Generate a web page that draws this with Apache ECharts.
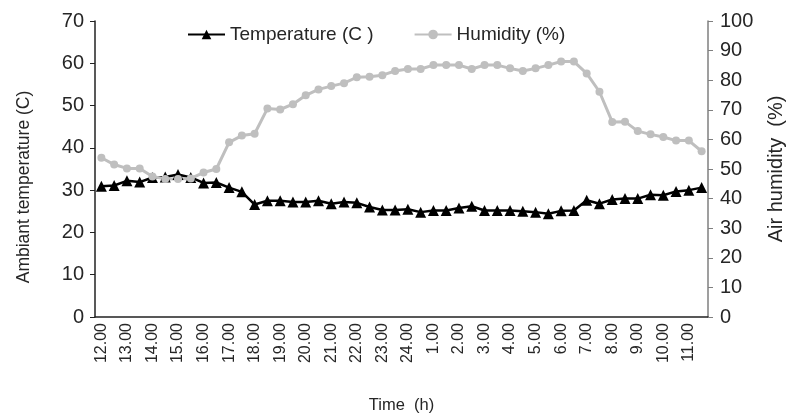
<!DOCTYPE html>
<html>
<head>
<meta charset="utf-8">
<script src="https://cdn.jsdelivr.net/npm/echarts@6/dist/echarts.min.js"></script>
<style>
  html, body { margin: 0; padding: 0; background: #fff; }
  #chart { width: 788px; height: 414px; }
</style>
</head>
<body>
<div id="chart"></div>
<script>
// half-hour readings, 12.00 -> 11.30
const times = [
  "12.00", "12.30", "13.00", "13.30", "14.00", "14.30", "15.00", "15.30",
  "16.00", "16.30", "17.00", "17.30", "18.00", "18.30", "19.00", "19.30",
  "20.00", "20.30", "21.00", "21.30", "22.00", "22.30", "23.00", "23.30",
  "24.00", "24.30", "1.00", "1.30", "2.00", "2.30", "3.00", "3.30",
  "4.00", "4.30", "5.00", "5.30", "6.00", "6.30", "7.00", "7.30",
  "8.00", "8.30", "9.00", "9.30", "10.00", "10.30", "11.00", "11.30"
];

const temperature = [
  30.9, 31.1, 32.2, 31.9, 33.0, 33.1, 33.7, 33.0, 31.7, 31.8, 30.6, 29.6,
  26.6, 27.5, 27.5, 27.2, 27.2, 27.5, 26.8, 27.2, 27.0, 26.0, 25.3, 25.3,
  25.5, 24.8, 25.2, 25.2, 25.8, 26.2, 25.2, 25.2, 25.2, 25.0, 24.8, 24.4,
  25.1, 25.2, 27.6, 26.8, 27.8, 28.0, 28.0, 28.9, 28.8, 29.7, 30.0, 30.6
];

const humidity = [
  53.8, 51.5, 50.2, 50.2, 47.5, 46.6, 46.6, 46.8, 48.8, 50.0, 59.0, 61.3,
  61.9, 70.4, 70.1, 71.9, 74.9, 76.9, 78.0, 79.0, 81.0, 81.2, 81.7, 83.1,
  83.8, 83.8, 85.1, 85.1, 85.1, 83.8, 85.1, 85.1, 84.0, 83.1, 84.0, 85.1,
  86.3, 86.3, 82.3, 76.1, 65.9, 66.0, 62.8, 61.7, 60.8, 59.6, 59.6, 56.0
];

const font = "'Liberation Sans', Arial, sans-serif";
const textColor = "#262626";

let options = {
  animation: false,
  textStyle: { fontFamily: font, color: textColor },
  grid: {
    left: 95,
    right: 80,
    top: 21,
    bottom: 97,
    containLabel: false,
    outerBoundsMode: "none",
  },
  legend: {
    left: 182,
    top: 20,
    itemWidth: 37,
    itemHeight: 12,
    itemGap: 40,
    textStyle: { fontFamily: font, fontSize: 19, color: textColor },
    data: ["Temperature (C )", "Humidity (%)"],
  },
  xAxis: {
    type: "category",
    data: times,
    boundaryGap: true,
    name: "Time  (h)",
    nameLocation: "middle",
    nameGap: 80,
    nameTextStyle: { fontFamily: font, fontSize: 16.5, color: textColor },
    axisLine: { lineStyle: { color: "#222", width: 1.5 } },
    axisTick: { show: false },
    axisLabel: {
      interval: 1,
      rotate: 90,
      fontSize: 16,
      color: textColor,
      fontFamily: font,
      margin: 6,
    },
    splitLine: { show: false },
  },
  yAxis: [
    {
      type: "value",
      min: 0,
      max: 70,
      interval: 10,
      name: "Ambiant temperature (C)",
      nameLocation: "middle",
      nameGap: 62,
      nameTextStyle: {
        fontFamily: font,
        fontSize: 17.5,
        color: textColor,
        padding: [0, 36, 0, 0],
      },
      axisLine: { show: true, lineStyle: { color: "#222", width: 1.5 } },
      axisTick: { show: true, length: 5, lineStyle: { color: "#222" } },
      axisLabel: { fontSize: 20, color: textColor, fontFamily: font, margin: 11 },
      splitLine: { show: false },
    },
    {
      type: "value",
      min: 0,
      max: 100,
      interval: 10,
      position: "right",
      name: "Air humidity  (%)",
      nameLocation: "middle",
      nameGap: 58,
      nameTextStyle: { fontFamily: font, fontSize: 20, color: textColor },
      axisLine: { show: true, lineStyle: { color: "#7f7f7f", width: 1.5 } },
      axisTick: { show: true, length: 5, lineStyle: { color: "#7f7f7f" } },
      axisLabel: { fontSize: 20, color: textColor, fontFamily: font, margin: 12 },
      splitLine: { show: false },
    },
  ],
  series: [
    {
      name: "Temperature (C )",
      type: "line",
      yAxisIndex: 0,
      data: temperature,
      symbol: "triangle",
      symbolSize: 11,
      showAllSymbol: true,
      lineStyle: { color: "#000", width: 2.5 },
      itemStyle: { color: "#000" },
    },
    {
      name: "Humidity (%)",
      type: "line",
      yAxisIndex: 1,
      data: humidity,
      symbol: "circle",
      symbolSize: 8,
      showAllSymbol: true,
      lineStyle: { color: "#bfbfbf", width: 3 },
      itemStyle: { color: "#bfbfbf" },
    },
  ],
};

var chart = echarts.init(document.getElementById("chart"));
chart.setOption(options);
window.addEventListener("resize", function () {
  chart.resize();
});
</script>
</body>
</html>
